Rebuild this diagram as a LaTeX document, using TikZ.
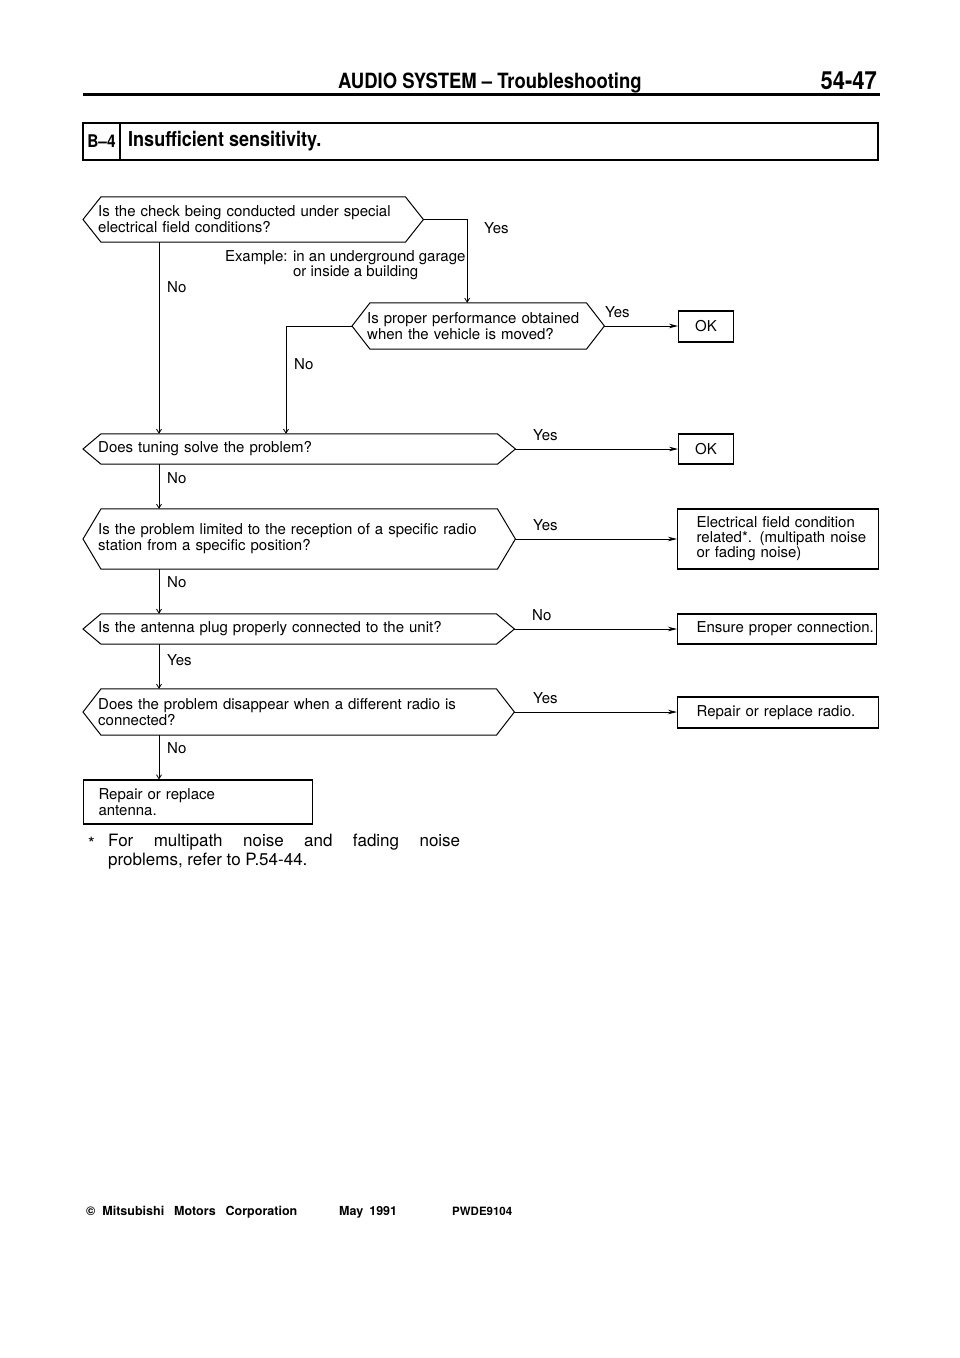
\documentclass[tikz,border=0pt]{standalone}
\usepackage{fontspec}
\setmainfont{TeX Gyre Heros}
\newfontfamily\headfont[FakeStretch=0.88,Ligatures=TeX]{TeX Gyre Heros}
\usetikzlibrary{arrows.meta}
\hfuzz=40pt

\tikzset{
  ask/.style={text width=#1, align=left, inner xsep=15pt, inner ysep=0pt, anchor=west},
  res/.style={draw, line width=1.1pt, text width=#1, align=left, inner xsep=19pt, inner ysep=0pt, anchor=west},
  okbox/.style={draw, line width=1.1pt, minimum width=55pt, minimum height=31pt, inner sep=0pt, anchor=west},
  lbl/.style={anchor=west, inner sep=0pt},
  foot/.style={anchor=base west, inner sep=0pt, font=\bfseries\fontsize{12.5}{13}\selectfont},
  dn/.style={line width=0.8pt, -{Straight Barb[length=4pt,width=5pt]}},
  rt/.style={line width=0.8pt, -{Stealth[length=9pt,width=4.5pt]}},
}
% hexagon round a question node
\newcommand\hexa[1]{%
  \draw[line width=1pt] (#1.west) -- ([xshift=18pt]#1.north west) -- ([xshift=-18pt]#1.north east)
    -- (#1.east) -- ([xshift=-18pt]#1.south east) -- ([xshift=18pt]#1.south west) -- cycle;}

\begin{document}
\begin{tikzpicture}[x=1pt,y=-1pt,font=\fontsize{15}{16}\selectfont]
\useasboundingbox (0,0) rectangle (960,1358);
% page head
\node[lbl] (head) at (338,83) {\headfont\bfseries\fontsize{21}{21}\selectfont AUDIO SYSTEM \textendash\ Troubleshooting};
\node[anchor=east, inner sep=0pt] (pg) at (877,81) {\headfont\bfseries\fontsize{25}{25}\selectfont 54-47};
\draw[line width=3pt] (83,94.5) -- (880,94.5);
\draw[line width=1.6pt] (83,123) rectangle (878,160);
\draw[line width=1.6pt] (120,123) -- (120,160);
\node[inner sep=0pt] (code) at (101.5,141.5) {\headfont\bfseries\fontsize{17.5}{17.5}\selectfont B\textendash4};
\node[lbl] (ttl) at (128,141.5) {\headfont\bfseries\fontsize{20.5}{20.5}\selectfont Insufficient sensitivity.};

% questions
\node[ask=310pt, minimum height=45pt] (q1) at (83,219.5) {Is the check being conducted under special\\electrical field conditions?};
\node[ask=222pt, minimum height=46pt] (q2) at (352,326) {Is proper performance obtained\\when the vehicle is moved?};
\node[ask=402pt, minimum height=30pt] (q3) at (83,449) {Does tuning solve the problem?};
\node[ask=402pt, minimum height=60pt] (q4) at (83,539) {Is the problem limited to the reception of a specific radio\\station from a specific position?};
\node[ask=401pt, minimum height=30pt] (q5) at (83,629) {Is the antenna plug properly connected to the unit?};
\node[ask=401pt, minimum height=46pt] (q6) at (83,712) {Does the problem disappear when a different radio is\\connected?};
\foreach \i in {1,...,6} \hexa{q\i};

% results
\node[okbox] (ok1) at (678,326.5) {OK};
\node[okbox, minimum height=30pt] (ok2) at (678,449) {OK};
\node[res=163pt, minimum height=60pt, font=\fontsize{15}{15}\selectfont] (fld) at (677,539) {\mbox{Electrical field condition}\\\mbox{related*. (multipath noise}\\\mbox{or fading noise)}};
\node[res=161pt, minimum height=30pt] (conn) at (677,629) {\mbox{Ensure proper connection.}};
\node[res=163pt, minimum height=31pt] (radio) at (677,712.5) {\mbox{Repair or replace radio.}};
\node[res=199pt, inner xsep=15pt, minimum height=44pt] (ant) at (83,802) {Repair or replace\\antenna.};

% connectors
\coordinate (sp) at (159,0);
\coordinate (br) at (286,0);
\draw[dn] (q1.east) -| ([xshift=-11pt]q2.north);
\draw[dn] (q1.south -| sp) -- (q3.north -| sp);
\draw[dn] (q2.west) -| (q3.north -| br);
\draw[rt] (q2.east) -- (q2.east -| ok1.west);
\draw[rt] (q3.east) -- (q3.east -| ok2.west);
\draw[dn] (q3.south -| sp) -- (q4.north -| sp);
\draw[rt] (q4.east) -- (q4.east -| fld.west);
\draw[dn] (q4.south -| sp) -- (q5.north -| sp);
\draw[rt] (q5.east) -- (q5.east -| conn.west);
\draw[dn] (q5.south -| sp) -- (q6.north -| sp);
\draw[rt] (q6.east) -- (q6.east -| radio.west);
\draw[dn] (q6.south -| sp) -- (ant.north -| sp);

% labels
\node[lbl] (y1) at (484,228) {Yes};
\node[lbl, align=left, font=\fontsize{15}{13.5}\selectfont] (ex) at (225,265.5) {Example: in an underground garage\\\hphantom{Example: }or inside a building};
\node[lbl] (n1) at (167,287) {No};
\node[lbl] (y2) at (605,312) {Yes};
\node[lbl] (n2) at (294,364) {No};
\node[lbl] (y3) at (533,435) {Yes};
\node[lbl] (n3) at (167,478) {No};
\node[lbl] (y4) at (533,525) {Yes};
\node[lbl] (n4) at (167,582) {No};
\node[lbl] (n5) at (532,615) {No};
\node[lbl] (y5) at (167,660) {Yes};
\node[lbl] (y6) at (533,698) {Yes};
\node[lbl] (n6) at (167,748) {No};

% footnote
\node[lbl] (star) at (88,843) {\fontsize{17}{19}\selectfont *};
\node[lbl, align=left, font=\fontsize{17}{19}\selectfont] (note) at (108,851.5) {\makebox[352pt][s]{For multipath noise and fading noise}\\problems, refer to P.54-44.};

% page foot
\node[foot] (corp) at (86,1215) {\textcopyright\hspace{7pt}Mitsubishi\hspace{10pt}Motors\hspace{10pt}Corporation};
\node[foot] (date) at (339,1215) {May\hspace{6pt}1991};
\node[foot, font=\bfseries\fontsize{11.5}{12}\selectfont] (pw) at (452,1215) {PWDE9104};
\end{tikzpicture}
\end{document}
